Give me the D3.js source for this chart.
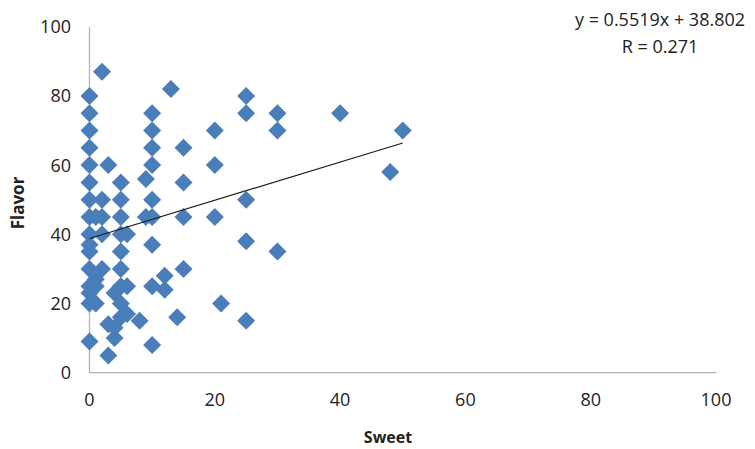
<!DOCTYPE html>
<html>
<head>
<meta charset="utf-8">
<script src="https://cdn.jsdelivr.net/npm/d3@7"></script>
<style>
  html, body { margin: 0; padding: 0; background: #fff; }
  svg text { font-family: "Open Sans", "Liberation Sans", sans-serif; fill: #222; }
</style>
</head>
<body>
<svg id="chart" width="755" height="449"></svg>
<script>
// Sweetness vs. flavour scores
const sweet = [
  0, 0, 0, 0, 0, 0, 0, 0, 0, 0, 0, 0, 0, 0, 0, 0,
  1, 1, 1, 1,
  2, 2, 2, 2, 2,
  3, 3, 3,
  4, 4, 4,
  5, 5, 5, 5, 5, 5, 5, 5, 5,
  6, 6, 6,
  8,
  9, 9,
  10, 10, 10, 10, 10, 10, 10, 10, 10,
  12, 12,
  13,
  14,
  15, 15, 15, 15,
  20, 20, 20,
  21,
  25, 25, 25, 25, 25,
  30, 30, 30,
  40,
  48,
  50
];
const flavor = [
  80, 75, 70, 65, 60, 55, 50, 45, 40, 37, 35, 30, 25, 23, 20, 9,
  45, 27, 25, 20,
  87, 50, 45, 40, 30,
  60, 14, 5,
  23, 13, 10,
  55, 50, 45, 40, 35, 30, 25, 20, 16,
  40, 25, 17,
  15,
  56, 45,
  75, 70, 65, 60, 50, 45, 37, 25, 8,
  28, 24,
  82,
  16,
  65, 55, 45, 30,
  70, 60, 45,
  20,
  80, 75, 50, 38, 15,
  75, 70, 35,
  75,
  58,
  70
];
const xTicks = [0, 20, 40, 60, 80, 100];
const yTicks = [0, 20, 40, 60, 80, 100];
const slope = 0.5519, intercept = 38.802, rValue = 0.271;
const fitRange = [0, 50];

const svg = d3.select("#chart");
const x = d3.scaleLinear().domain([0, 100]).range([89.5, 716]);
const y = d3.scaleLinear().domain([0, 100]).range([372.7, 26.7]);

// axis lines
const axisColor = "#b3b3b3";
svg.append("line")
  .attr("x1", x(0)).attr("x2", x(0))
  .attr("y1", y(100)).attr("y2", y(0))
  .attr("stroke", axisColor).attr("stroke-width", 1.3);
svg.append("line")
  .attr("x1", x(0)).attr("x2", x(100))
  .attr("y1", y(0)).attr("y2", y(0))
  .attr("stroke", axisColor).attr("stroke-width", 1.3);

// tick labels
svg.append("g").selectAll("text").data(yTicks).join("text")
  .attr("x", 71).attr("y", d => y(d))
  .attr("dy", "0.36em")
  .attr("text-anchor", "end")
  .attr("font-size", 18)
  .text(d => d);

svg.append("g").selectAll("text").data(xTicks).join("text")
  .attr("x", d => x(d)).attr("y", 400)
  .attr("dy", "0.36em")
  .attr("text-anchor", "middle")
  .attr("font-size", 18)
  .text(d => d);

// axis titles
svg.append("text")
  .attr("x", 388).attr("y", 437)
  .attr("dy", "0.35em")
  .attr("text-anchor", "middle")
  .attr("font-size", 16).attr("font-weight", "bold")
  .text("Sweet");
svg.append("text")
  .attr("transform", "translate(18,203) rotate(-90)")
  .attr("dy", "0.35em")
  .attr("text-anchor", "middle")
  .attr("font-size", 17).attr("font-weight", "bold")
  .text("Flavor");

// points (diamonds)
const pts = sweet.map((s, i) => ({ s, f: flavor[i] }));
const diamond = d3.symbol().type(d3.symbolSquare).size(162);
svg.append("g").selectAll("path").data(pts).join("path")
  .attr("d", diamond)
  .attr("transform", d => `translate(${x(d.s)},${y(d.f)}) rotate(45)`)
  .attr("fill", "#4a7ebb");

// linear trend line
svg.append("line")
  .attr("x1", x(fitRange[0])).attr("y1", y(intercept + slope * fitRange[0]))
  .attr("x2", x(fitRange[1])).attr("y2", y(intercept + slope * fitRange[1]))
  .attr("stroke", "#1a1a1a").attr("stroke-width", 1.1);

// equation label
svg.append("text")
  .attr("x", 660).attr("y", 26)
  .attr("text-anchor", "middle")
  .attr("font-size", 18)
  .text(`y = ${slope}x + ${intercept}`);
svg.append("text")
  .attr("x", 660).attr("y", 53)
  .attr("text-anchor", "middle")
  .attr("font-size", 18)
  .text(`R = ${rValue}`);
</script>
</body>
</html>
